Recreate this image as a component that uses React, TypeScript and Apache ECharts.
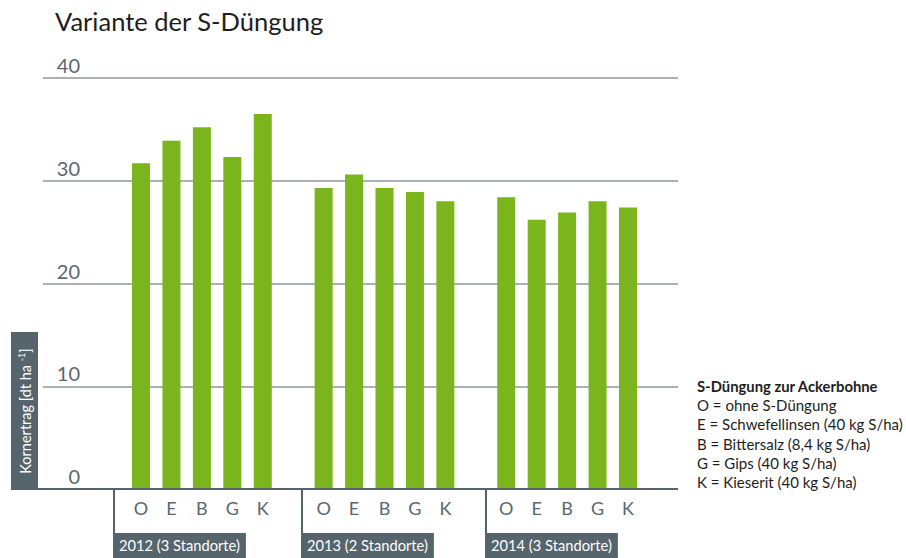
import React, { useEffect, useRef } from "react";
import * as echarts from "echarts";

const treatments = ["O", "E", "B", "G", "K"];
const groupLabels = ["2012 (3 Standorte)", "2013 (2 Standorte)", "2014 (3 Standorte)"];
const values2012 = [31.7, 33.9, 35.2, 32.3, 36.5];
const values2013 = [29.3, 30.6, 29.3, 28.9, 28.0];
const values2014 = [28.4, 26.2, 26.9, 28.0, 27.4];
const yTicks = [0, 10, 20, 30, 40];
const legendTitle = "S-Düngung zur Ackerbohne";
const legendLines = [
  "O = ohne S-Düngung",
  "E = Schwefellinsen (40 kg S/ha)",
  "B = Bittersalz (8,4 kg S/ha)",
  "G = Gips (40 kg S/ha)",
  "K = Kieserit (40 kg S/ha)",
];
const titleText = "Variante der S-Düngung";

const FONT = "Lato, 'Noto Sans', sans-serif";
const GREEN = "#7ab51d";
const SLATE = "#56646c";
const LABEL = "#5b6770";

export default function App() {
  const ref = useRef<HTMLDivElement>(null);
  useEffect(() => {
    if (!ref.current) return;
    const chart = echarts.init(ref.current, undefined, { renderer: "svg" });
    const groups = [values2012, values2013, values2014];
    const cats: string[] = [];
    const data: (number | null)[] = [];
    groups.forEach((g, gi) => {
      if (gi > 0) {
        cats.push("gap" + gi);
        data.push(null);
      }
      treatments.forEach((t, ti) => {
        cats.push(t + gi);
        data.push(g[ti]);
      });
    });
    const bracketX = [114, 302, 486];
    const graphic: any[] = [
      {
        type: "text",
        left: 55,
        top: 8,
        style: { text: titleText, font: `400 25.5px ${FONT}`, fill: "#1e1e1e" },
      },
      {
        type: "line",
        z: 100,
        shape: { x1: 11, y1: 489, x2: 678, y2: 489 },
        style: { stroke: SLATE, lineWidth: 2 },
      },
      {
        type: "rect",
        z: 100,
        shape: { x: 11, y: 332, width: 27, height: 156 },
        style: { fill: SLATE },
      },
      {
        type: "text",
        z: 101,
        x: 25,
        y: 411,
        rotation: Math.PI / 2,
        style: {
          text: "{a|Kornertrag [dt ha }{s|-1}{a|]}",
          align: "center",
          verticalAlign: "middle",
          fill: "#ffffff",
          rich: {
            a: { font: `400 14.5px ${FONT}`, fill: "#ffffff", lineHeight: 16 },
            s: { font: `400 9px ${FONT}`, fill: "#ffffff", lineHeight: 16, verticalAlign: "top", padding: [0, 0, 6, 0] },
          },
        },
      },
      {
        type: "text",
        left: 697,
        top: 378,
        style: {
          text: "{b|" + legendTitle + "}\n" + legendLines.map((l) => "{n|" + l + "}").join("\n"),
          rich: {
            b: { font: `700 14.8px ${FONT}`, fill: "#1e1e1e", lineHeight: 20 },
            n: { font: `400 15px ${FONT}`, fill: "#1e1e1e", lineHeight: 19.3 },
          },
        },
      },
    ];
    bracketX.forEach((x, i) => {
      graphic.push({
        type: "line",
        z: 100,
        shape: { x1: x, y1: 489, x2: x, y2: 558 },
        style: { stroke: SLATE, lineWidth: 2 },
      });
      graphic.push({
        type: "text",
        z: 101,
        x: x - 1,
        y: 533,
        style: {
          text: groupLabels[i],
          font: `400 14.7px ${FONT}`,
          fill: "#ffffff",
          backgroundColor: SLATE,
          padding: [4, 6, 6, 6],
        },
      });
    });

    chart.setOption({
      animation: false,
      grid: [
        { left: 43, right: 228, top: 78, bottom: 69 },
        { left: 125.8, right: 262.8, top: 78, bottom: 69 },
      ],
      xAxis: [
        { type: "category", gridIndex: 0, data: ["a"], show: false },
        {
          type: "category",
          gridIndex: 1,
          data: cats,
          axisLine: { show: false },
          axisTick: { show: false },
          axisLabel: {
            interval: 0,
            margin: 10,
            color: LABEL,
            fontFamily: FONT,
            fontSize: 18,
            formatter: (v: string) => (v.startsWith("gap") ? "" : v.charAt(0)),
          },
        },
      ],
      yAxis: [
        {
          type: "value",
          gridIndex: 0,
          min: yTicks[0],
          max: yTicks[yTicks.length - 1],
          interval: 10,
          axisLine: { show: false },
          axisTick: { show: false },
          splitLine: { lineStyle: { color: "#aab1b5", width: 2 } },
          axisLabel: {
            inside: true,
            margin: 37,
            align: "right",
            verticalAlign: "bottom",
            padding: [0, 0, 3, 0],
            color: LABEL,
            fontFamily: FONT,
            fontSize: 20,
          },
        },
        {
          type: "value",
          gridIndex: 1,
          min: 0,
          max: 40,
          interval: 10,
          show: false,
          splitLine: { show: false },
        },
      ],
      series: [
        {
          type: "bar",
          xAxisIndex: 1,
          yAxisIndex: 1,
          data,
          barWidth: 18,
          itemStyle: { color: GREEN },
        },
      ],
      graphic,
    });
    return () => chart.dispose();
  }, []);
  return <div ref={ref} style={{ width: 906, height: 558, position: "absolute", left: 0, top: 0 }} />;
}
